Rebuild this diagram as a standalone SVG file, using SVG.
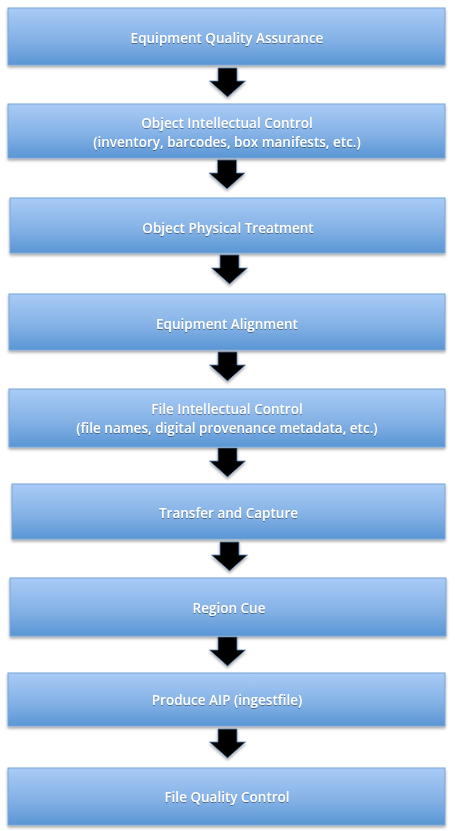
<svg xmlns="http://www.w3.org/2000/svg" width="455" height="831" viewBox="0 0 455 831">
<defs>
<linearGradient id="g" x1="0" y1="0" x2="0" y2="1">
<stop offset="0" stop-color="#a9cbf6"/>
<stop offset="0.55" stop-color="#85b2e6"/>
<stop offset="1" stop-color="#5a96d4"/>
</linearGradient>
<filter id="sh" x="-5%" y="-20%" width="110%" height="150%">
<feGaussianBlur in="SourceAlpha" stdDeviation="1.5"/>
<feOffset dx="0" dy="2" result="b"/>
<feComponentTransfer><feFuncA type="linear" slope="0.35"/></feComponentTransfer>
<feMerge><feMergeNode/><feMergeNode in="SourceGraphic"/></feMerge>
</filter>
<filter id="ts" x="-5%" y="-30%" width="110%" height="160%">
<feGaussianBlur in="SourceAlpha" stdDeviation="0.6"/>
<feOffset dx="0" dy="0.6"/>
<feComponentTransfer><feFuncA type="linear" slope="0.4"/></feComponentTransfer>
<feMerge><feMergeNode/><feMergeNode in="SourceGraphic"/></feMerge>
</filter>
<polygon id="arr" points="-9.5,0 9.5,0 9.5,13 18,13 0,29 -18,13 -9.5,13"/>
</defs>
<style>
.box{fill:url(#g);stroke:#78a6d8;stroke-width:1;filter:url(#sh)}
.t{font-family:"Open Sans","Noto Sans","Liberation Sans",sans-serif;font-size:13.5px;font-weight:600;fill:#ffffff;text-anchor:middle;filter:url(#ts)}
.a{fill:#000000;stroke:#5f8cc0;stroke-width:0.8;filter:url(#sh)}
</style>
<rect width="455" height="831" fill="#ffffff"/>
<g id="connectors">
<use href="#arr" class="a" x="227.5" y="68"/>
<use href="#arr" class="a" x="227" y="160"/>
<use href="#arr" class="a" x="229.5" y="255"/>
<use href="#arr" class="a" x="227.5" y="352"/>
<use href="#arr" class="a" x="227.5" y="448"/>
<use href="#arr" class="a" x="229.5" y="542"/>
<use href="#arr" class="a" x="227.5" y="637"/>
<use href="#arr" class="a" x="227.5" y="729"/>
</g>
<g id="n1"><rect class="box" x="8" y="8" width="437" height="57"/><text class="t" x="227" y="43">Equipment Quality Assurance</text></g>
<g id="n2"><rect class="box" x="8" y="104" width="437" height="54"/><text class="t" x="227" y="128">Object Intellectual Control</text><text class="t" x="227" y="146.5">(inventory, barcodes, box manifests, etc.)</text></g>
<g id="n3"><rect class="box" x="10" y="198" width="435" height="55"/><text class="t" x="228" y="232.5">Object Physical Treatment</text></g>
<g id="n4"><rect class="box" x="9" y="294" width="436" height="56"/><text class="t" x="227" y="328.5">Equipment Alignment</text></g>
<g id="n5"><rect class="box" x="9" y="389" width="436" height="58"/><text class="t" x="227" y="414">File Intellectual Control</text><text class="t" x="227" y="433">(file names, digital provenance metadata, etc.)</text></g>
<g id="n6"><rect class="box" x="12" y="484" width="433" height="55"/><text class="t" x="228.5" y="518">Transfer and Capture</text></g>
<g id="n7"><rect class="box" x="10" y="578" width="436" height="58"/><text class="t" x="229" y="612.5">Region Cue</text></g>
<g id="n8"><rect class="box" x="8" y="673" width="437" height="53"/><text class="t" x="227" y="705">Produce AIP (ingestfile)</text></g>
<g id="n9"><rect class="box" x="8" y="768" width="437" height="57"/><text class="t" x="227" y="802">File Quality Control</text></g>
</svg>
